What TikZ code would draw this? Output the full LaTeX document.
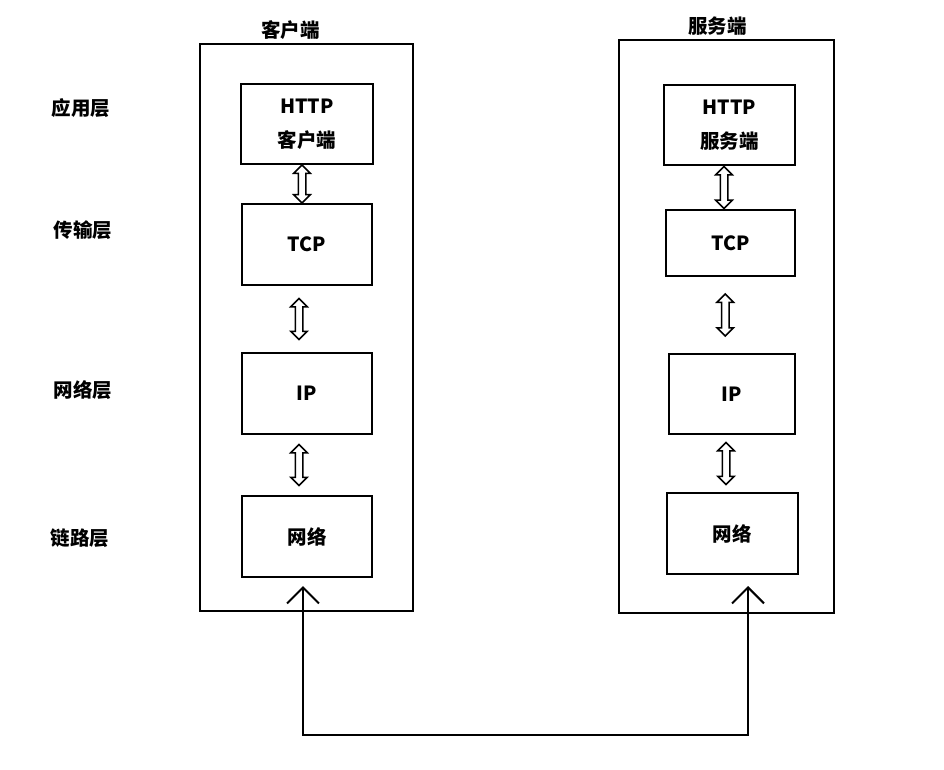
\documentclass[tikz,border=0pt]{standalone}
\usepackage{fontspec}
\setmainfont{Noto Sans CJK SC}
\usepackage{tikz}
\usetikzlibrary{arrows.meta,shapes.arrows,positioning,calc}
\tikzset{
  txt/.style      ={font=\bfseries\fontsize{19.5}{23}\selectfont},
  layerbox/.style ={draw, line width=2pt, minimum width=#1,
                    minimum height=80pt, align=center, txt, inner sep=0pt},
  layerbox/.default=130pt,
  hostbox/.style  ={draw, line width=2pt},
  dblarr/.style   ={double arrow, draw, line width=1.5pt, rotate=90,
                    minimum height=#1, inner xsep=0pt, inner ysep=3pt,
                    double arrow head extend=4.5pt},
  linkarr/.style  ={{Straight Barb[length=16pt,width=32pt]}-{Straight Barb[length=16pt,width=32pt]},
                    line width=2pt},
}
\begin{document}
\begin{tikzpicture}[x=1pt, y=-1pt]
  \useasboundingbox (0,0) rectangle (944,770);

  % host frames
  \node[hostbox, minimum width=213pt, minimum height=567pt] (cbox) at (306.5,327.5) {};
  \node[hostbox, minimum width=215pt, minimum height=573pt] (sbox) at (726.5,326.5) {};
  \node[txt, above=0pt of cbox.north, xshift=-16pt] (ctitle) {客户端};
  \node[txt, above=0pt of sbox.north, xshift=-9pt] (stitle) {服务端};

  % layer names
  \node[txt] (lapp)  at (81,108) {应用层};
  \node[txt] (ltran) at (83,230) {传输层};
  \node[txt] (lnet)  at (83,390) {网络层};
  \node[txt] (llink) at (80,538) {链路层};

  % client stack
  \node[layerbox=132pt] (chttp) at (307,124) {HTTP\\[11pt]客户端};
  \node[layerbox, minimum height=81pt, below=38pt of chttp] (ctcp) {TCP};
  \node[layerbox, minimum height=81pt, below=66pt of ctcp] (cip) {IP};
  \node[layerbox, minimum height=81pt, below=60pt of cip] (clink) {网络};

  % server stack
  \node[layerbox=131pt] (shttp) at (729.5,125) {HTTP\\[11pt]服务端};
  \node[layerbox=129pt, minimum height=66pt, below=43pt of shttp, xshift=1pt] (stcp) {TCP};
  \node[layerbox=126pt, below=76pt of stcp, xshift=1.5pt] (sip) {IP};
  \node[layerbox=131pt, minimum height=81pt, below=57pt of sip] (slink) {网络};

  % between layers
  \node[dblarr=38pt] (ca1) at ($(chttp.south)!.5!(ctcp.north)+(-5,0)$) {};
  \node[dblarr=41pt] (ca2) at ($(ctcp.south)!.5!(cip.north)+(-8,0)$) {};
  \node[dblarr=41pt] (ca3) at ($(cip.south)!.5!(clink.north)+(-8,0)$) {};
  \node[dblarr=42pt] (sa1) at ($(shttp.south)!.5!(stcp.north)+(-6,0)$) {};
  \node[dblarr=42pt] (sa2) at ($(stcp.south)!.5!(sip.north)+(-6,0)$) {};
  \node[dblarr=42pt] (sa3) at ($(sip.south)!.5!(slink.north)+(-6,0)$) {};

  % physical link
  \coordinate (cin)   at (303,586);
  \coordinate (cbend) at (303,735);
  \coordinate (sbend) at (748,735);
  \coordinate (sin)   at (748,586);
  \draw[linkarr] (cin) -- (cbend) -- (sbend) -- (sin);
\end{tikzpicture}
\end{document}
